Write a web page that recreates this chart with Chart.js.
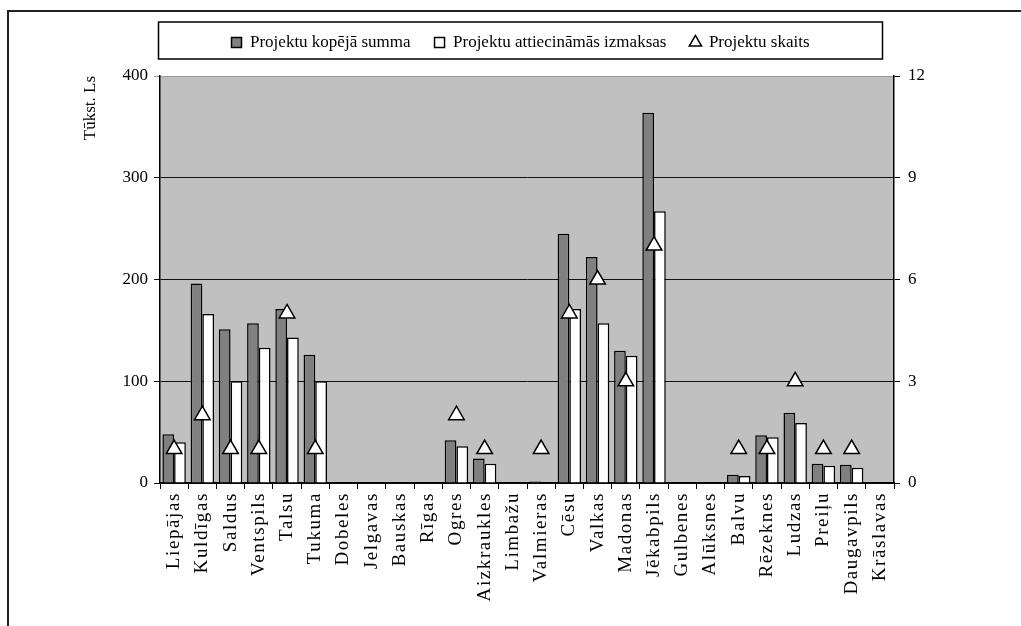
<!DOCTYPE html>
<html lang="lv">
<head>
    <meta charset="UTF-8">
    <title>Projekti pa rajoniem</title>
    <script src="https://cdn.jsdelivr.net/npm/chart.js"></script>
    <style>
        body { margin: 0; background: #fff; overflow: hidden; }
        .frame { position: absolute; left: 7px; top: 10px; width: 1100px; height: 700px; border-left: 2.5px solid #222; border-top: 2.5px solid #222; }
        .chart-box { position: absolute; left: 0; top: 0; width: 1021px; height: 626px; }
    </style>
</head>
<body>
    <div class="frame"></div>
    <div class="chart-box">
        <canvas id="projChart"></canvas>
    </div>

    <script>
        const rajoni = ['Liepājas', 'Kuldīgas', 'Saldus', 'Ventspils', 'Talsu', 'Tukuma', 'Dobeles', 'Jelgavas',
            'Bauskas', 'Rīgas', 'Ogres', 'Aizkraukles', 'Limbažu', 'Valmieras', 'Cēsu', 'Valkas', 'Madonas',
            'Jēkabpils', 'Gulbenes', 'Alūksnes', 'Balvu', 'Rēzeknes', 'Ludzas', 'Preiļu', 'Daugavpils', 'Krāslavas'];

        // tūkst. Ls
        const kopejaSumma = [48, 196, 151, 157, 171, 126, 0, 0, 0, 0, 42, 24, 0, 1.5, 245, 222, 130, 364, 0, 0, 8, 47, 69, 19, 18, 0];
        const attiecinamas = [40, 166, 100, 133, 143, 100, 0, 0, 0, 0, 36, 19, 0, 0.5, 171, 157, 125, 267, 0, 0, 7, 45, 59, 17, 15, 0];
        // projektu skaits (labā ass)
        const skaits = [1, 2, 1, 1, 5, 1, null, null, null, null, 2, 1, null, 1, 5, 6, 3, 7, null, null, 1, 1, 3, 1, 1, null];

        const leftTicks = [0, 100, 200, 300, 400];
        const rightTicks = [0, 3, 6, 9, 12];

        const serif = 'Liberation Serif';

        const plotBg = {
            id: 'plotBg',
            afterInit(chart) {
                // a bit more room under the legend
                const lg = chart.legend;
                const fit = lg.fit.bind(lg);
                lg.fit = function () { fit(); this.height += 15; };
            },
            afterLayout(chart) {
                // legend sits a little left of the page centre
                chart.legend.left -= 30;
                chart.legend.right -= 30;
            },
            beforeDraw(chart) {
                const a = chart.chartArea;
                const c = chart.ctx;
                c.save();
                c.fillStyle = '#c0c0c0';
                c.fillRect(a.left, a.top, a.right - a.left, a.bottom - a.top);
                c.restore();
                const xs = chart.scales.x;
                if (!xs._spaced) {
                    const draw = xs.drawLabels.bind(xs);
                    xs.drawLabels = function (area) {
                        this.ctx.save();
                        this.ctx.letterSpacing = '1.6px';
                        draw(area);
                        this.ctx.restore();
                    };
                    xs._spaced = true;
                }
            },
            afterDraw(chart) {
                const boxes = chart.legend.legendHitBoxes;
                if (!boxes || !boxes.length) return;
                let l = Infinity, r = -Infinity, t = Infinity, b = -Infinity;
                boxes.forEach(h => {
                    l = Math.min(l, h.left); r = Math.max(r, h.left + h.width);
                    t = Math.min(t, h.top); b = Math.max(b, h.top + h.height);
                });
                const c = chart.ctx;
                c.save();
                c.strokeStyle = '#000';
                c.lineWidth = 1.5;
                c.strokeRect(l - 73, t - 12, r - l + 146, b - t + 20);
                c.restore();
            }
        };

        new Chart(document.getElementById('projChart'), {
            type: 'bar',
            data: {
                labels: rajoni,
                datasets: [{
                    label: 'Projektu kopējā summa',
                    data: kopejaSumma,
                    backgroundColor: '#808080',
                    borderColor: '#000',
                    borderWidth: 1.5,
                    pointStyle: 'rect',
                    order: 1
                }, {
                    label: 'Projektu attiecināmās izmaksas',
                    data: attiecinamas,
                    backgroundColor: '#fff',
                    borderColor: '#000',
                    borderWidth: 1.5,
                    pointStyle: 'rect',
                    order: 2
                }, {
                    label: 'Projektu skaits',
                    type: 'line',
                    data: skaits,
                    yAxisID: 'y1',
                    showLine: false,
                    pointStyle: 'triangle',
                    pointRadius: 9,
                    pointBackgroundColor: '#fff',
                    pointBorderColor: '#000',
                    pointBorderWidth: 1.5,
                    backgroundColor: '#fff',
                    borderColor: '#000',
                    order: 0
                }]
            },
            options: {
                responsive: true,
                maintainAspectRatio: false,
                animation: false,
                datasets: { bar: { categoryPercentage: 0.83, barPercentage: 1 } },
                layout: { padding: { top: 10, left: 80, right: 0, bottom: 0 } },
                plugins: {
                    legend: {
                        labels: {
                            usePointStyle: true,
                            boxWidth: 10, boxHeight: 10,
                            padding: 24,
                            color: '#000',
                            font: { family: serif, size: 17 },
                            sort: (a, b) => a.datasetIndex - b.datasetIndex
                        }
                    },
                    tooltip: { enabled: false }
                },
                scales: {
                    x: {
                        grid: { drawOnChartArea: false, color: '#000', tickLength: 6, offset: true },
                        border: { color: '#000', width: 1.5 },
                        ticks: { color: '#000', font: { family: serif, size: 19 }, minRotation: 90, maxRotation: 90, autoSkip: false },
                        afterFit(s) { s.height = 143; }
                    },
                    y: {
                        min: 0, max: 400,
                        afterBuildTicks(s) { s.ticks = leftTicks.map(v => ({ value: v })); },
                        grid: {
                            color: ctx => ctx.tick && ctx.tick.value === 400 ? '#9a9a9a' : '#111',
                            tickLength: 6
                        },
                        border: { color: '#000', width: 1.5 },
                        ticks: { color: '#000', font: { family: serif, size: 17 }, padding: 6 },
                        title: { display: true, text: 'Tūkst. Ls', align: 'end', color: '#000', font: { family: serif, size: 17 }, padding: 0 },
                        afterFit(s) { s.width = 80; }
                    },
                    y1: {
                        position: 'right',
                        min: 0, max: 12,
                        afterBuildTicks(s) { s.ticks = rightTicks.map(v => ({ value: v })); },
                        grid: { drawOnChartArea: false, color: '#000', tickLength: 6 },
                        border: { color: '#000', width: 1.5 },
                        ticks: { color: '#000', font: { family: serif, size: 17 }, padding: 8 },
                        afterFit(s) { s.width = 127; }
                    }
                }
            },
            plugins: [plotBg]
        });
    </script>
</body>
</html>
